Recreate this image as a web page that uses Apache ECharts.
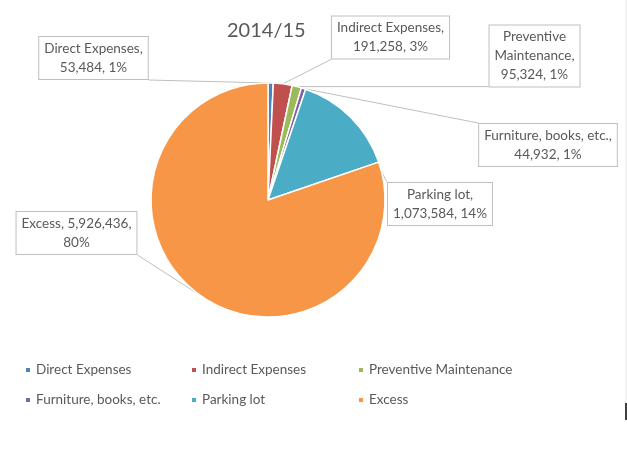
<!DOCTYPE html>
<html><head><meta charset="utf-8">
<script src="https://cdn.jsdelivr.net/npm/echarts@6/dist/echarts.min.js"></script>
<style>html,body{margin:0;padding:0;background:#fff}#c{width:627px;height:471px}</style>
</head><body><div id="c"></div>
<script>
const categories = ['Direct Expenses','Indirect Expenses','Preventive Maintenance','Furniture, books, etc.','Parking lot','Excess'];
const values = [53484, 191258, 95324, 44932, 1073584, 5926436];
const percentLabels = ['1%','3%','1%','1%','14%','80%'];
const labelNames = ['Direct Expenses','Indirect Expenses','Preventive\nMaintenance','Furniture, books, etc.','Parking lot','Excess'];
const labelBreaks = [['\n',' '],['\n',' '],['\n',' '],['\n',' '],['\n',' '],[' ','\n']];
const colors = ['#4F81BD','#C0504D','#9BBB59','#8064A2','#4BACC6','#F79646'];
const labelCenters = [[93.5,58],[390.5,37.5],[534.5,56],[548,145],[440,204],[76.5,233]];

const FONT = 'Lato';
const chart = echarts.init(document.getElementById('c'), null, {renderer:'canvas'});
const legendText = {color:'#595959', fontSize:13.5, fontFamily:FONT};
function legendCol(items, left) {
  return {
    data: items, orient:'vertical', left: left, top: 363, padding: 0,
    itemWidth: 6, itemHeight: 6, itemGap: 16, icon: 'rect',
    textStyle: legendText, selectedMode: false
  };
}
chart.setOption({
  animation: false,
  color: colors,
  title: {
    text: '2014/15', left: 222, top: 16,
    textStyle: {color:'#595959', fontSize:20, fontWeight:'normal', fontFamily:FONT}
  },
  legend: [
    legendCol([categories[0], categories[3]], 24),
    legendCol([categories[1], categories[4]], 190),
    legendCol([categories[2], categories[5]], 357)
  ],
  graphic: [
    {type:'line', shape:{x1:626, y1:0, x2:626, y2:403}, style:{stroke:'#E6E6E6', lineWidth:1}},
    {type:'line', shape:{x1:626, y1:403, x2:626, y2:420}, style:{stroke:'#000', lineWidth:1.5}}
  ],
  series: [{
    type: 'pie',
    center: [268, 200],
    radius: 117,
    startAngle: 90,
    clockwise: true,
    avoidLabelOverlap: false,
    emphasis: {disabled: true},
    itemStyle: {borderColor:'#fff', borderWidth:1.5},
    data: categories.map((c, i) => ({name: c, value: values[i]})),
    label: {
      show: true,
      position: 'outside',
      formatter: function (p) {
        const i = p.dataIndex;
        return labelNames[i] + ',' + labelBreaks[i][0] + values[i].toLocaleString('en-US') + ',' + labelBreaks[i][1] + percentLabels[i];
      },
      color: '#595959', fontSize: 13.5, fontFamily: FONT, lineHeight: 19,
      align: 'center',
      padding: [2, 5], borderColor: '#BFBFBF', borderWidth: 1, backgroundColor: '#fff'
    },
    labelLine: {show: true, length: 10, length2: 10, lineStyle: {color:'#BFBFBF', width:1}},
    labelLayout: function (p) {
      const c = labelCenters[p.dataIndex];
      const w = p.labelRect.width, h = p.labelRect.height;
      const x0 = c[0] - w / 2, y0 = c[1] - h / 2, x1 = x0 + w, y1 = y0 + h;
      const a = p.labelLinePoints ? p.labelLinePoints[0] : [c[0], c[1]];
      const nx = Math.min(Math.max(a[0], x0), x1);
      const ny = Math.min(Math.max(a[1], y0), y1);
      return {x: c[0], y: c[1], align: 'center', verticalAlign: 'middle',
              labelLinePoints: [a, [nx, ny], [nx, ny]]};
    }
  }]
});
</script></body></html>
